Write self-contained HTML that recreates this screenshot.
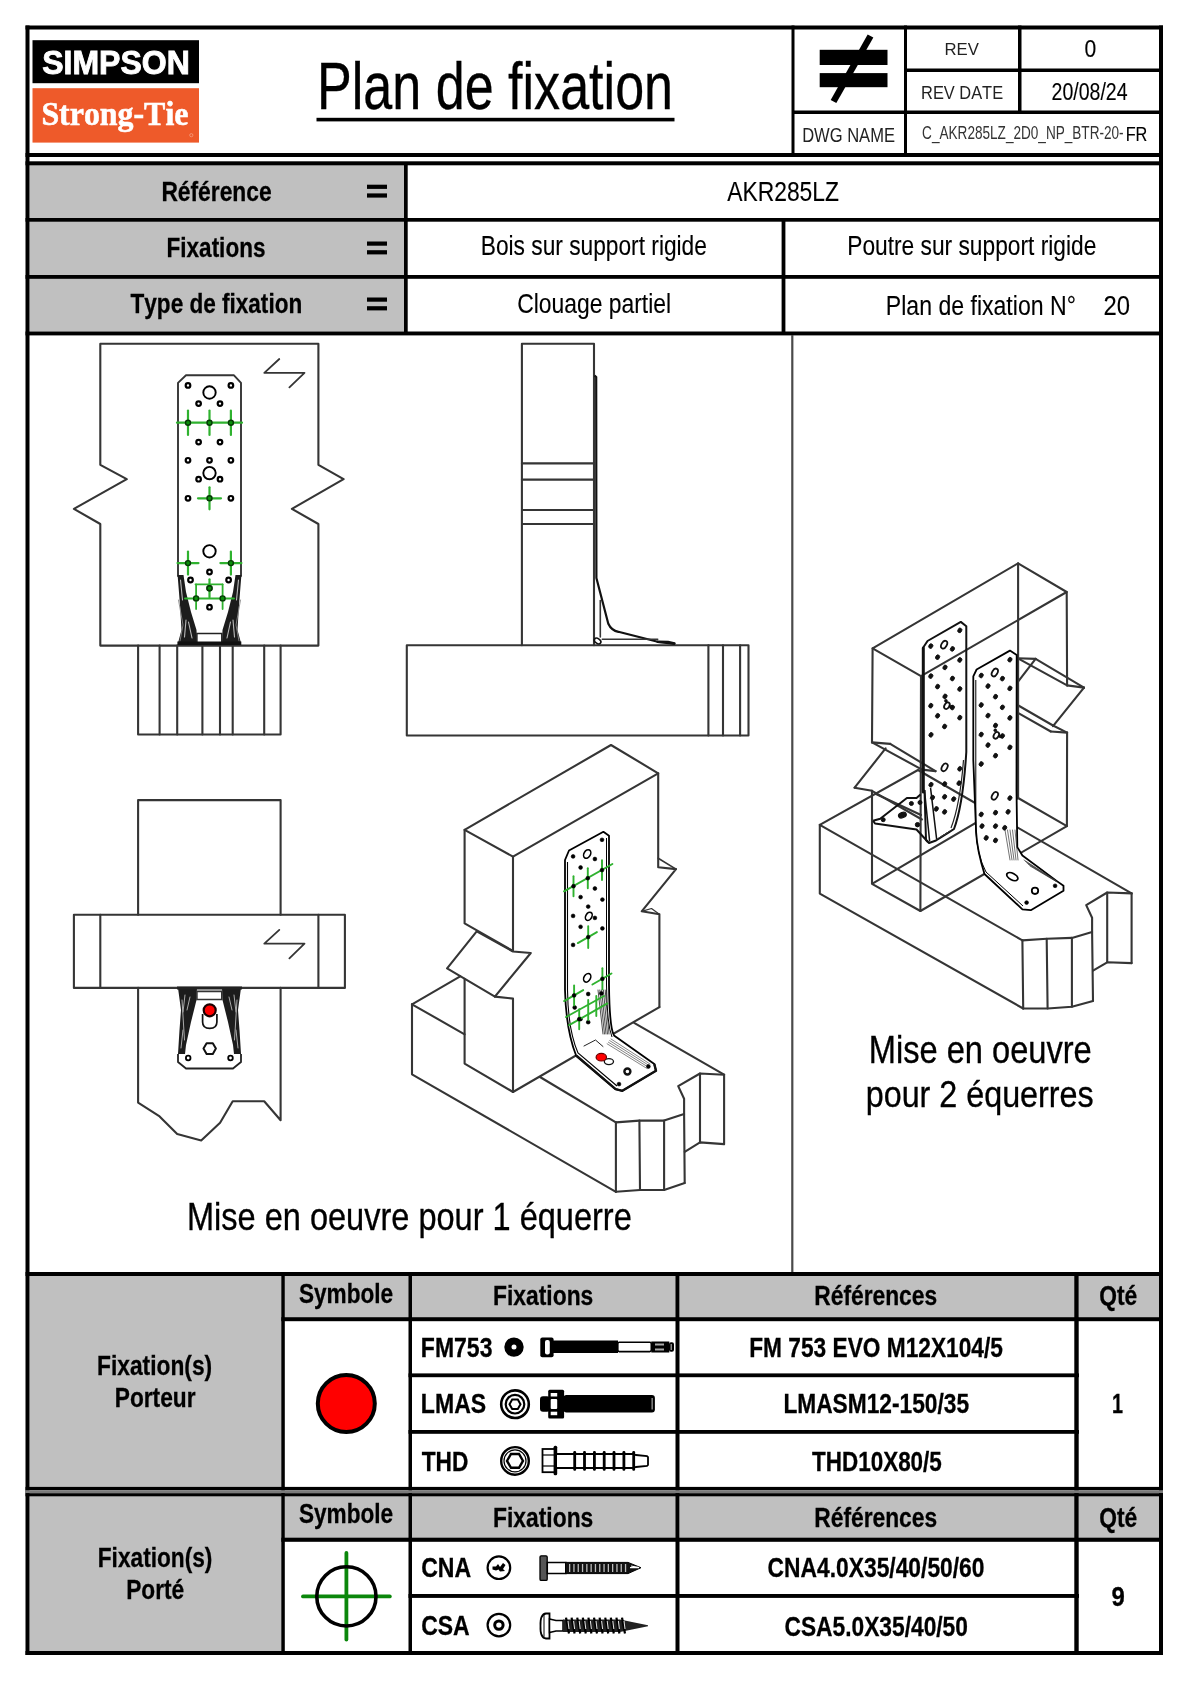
<!DOCTYPE html>
<html><head><meta charset="utf-8"><title>Plan de fixation</title>
<style>
html,body{margin:0;padding:0;background:#fff;}
body{width:1190px;height:1682px;overflow:hidden;font-family:"Liberation Sans",sans-serif;}
svg{display:block;will-change:transform;filter:blur(0.5px);}
</style></head>
<body>
<svg width="1190" height="1682" viewBox="0 0 1190 1682">
<rect x="0" y="0" width="1190" height="1682" fill="#fff"/>
<rect x="29.5" y="165" width="374.50" height="166.50" fill="#c0c0c0"/>
<rect x="29.5" y="1276" width="252.00" height="211.00" fill="#c0c0c0"/>
<rect x="285" y="1276" width="124.00" height="41.50" fill="#c0c0c0"/>
<rect x="412" y="1276" width="264.00" height="41.50" fill="#c0c0c0"/>
<rect x="680" y="1276" width="395.00" height="41.50" fill="#c0c0c0"/>
<rect x="1079" y="1276" width="80.00" height="41.50" fill="#c0c0c0"/>
<rect x="29.5" y="1496" width="252.00" height="155.00" fill="#c0c0c0"/>
<rect x="285" y="1496" width="124.00" height="42.00" fill="#c0c0c0"/>
<rect x="412" y="1496" width="264.00" height="42.00" fill="#c0c0c0"/>
<rect x="680" y="1496" width="395.00" height="42.00" fill="#c0c0c0"/>
<rect x="1079" y="1496" width="80.00" height="42.00" fill="#c0c0c0"/>
<rect x="32.5" y="40.2" width="166.50" height="43.00" fill="#000"/>
<rect x="32.5" y="88.2" width="166.50" height="54.40" fill="#ee5a2a"/>
<text x="42.18" y="73.50" font-family='"Liberation Sans", sans-serif' font-weight="bold" font-size="32.56" textLength="147.58" lengthAdjust="spacingAndGlyphs" style="font-kerning:none" fill="#fff" stroke="#fff" stroke-width="0.90" >SIMPSON</text>
<text x="41.40" y="124.50" font-family='"Liberation Serif", serif' font-weight="bold" font-size="33.45" textLength="147.02" lengthAdjust="spacingAndGlyphs" style="font-kerning:none" fill="#fff" stroke="#fff" stroke-width="0.60" >Strong-Tie</text>
<circle cx="191.3" cy="135.2" r="1.6" fill="none" stroke="#f7b49a" stroke-width="0.6"/>
<rect x="25.5" y="25.5" width="1137.50" height="4.00" fill="#000"/>
<rect x="25.5" y="1651" width="1137.50" height="4.00" fill="#000"/>
<rect x="25.5" y="25.5" width="4.00" height="1629.50" fill="#000"/>
<rect x="1159" y="25.5" width="4.00" height="1629.50" fill="#000"/>
<rect x="791.5" y="25.5" width="3.00" height="131.50" fill="#000"/>
<rect x="904" y="25.5" width="3.00" height="131.50" fill="#000"/>
<rect x="1018" y="25.5" width="3.50" height="88.50" fill="#000"/>
<rect x="907" y="68.5" width="256.00" height="3.50" fill="#000"/>
<rect x="794" y="110.5" width="369.00" height="3.50" fill="#000"/>
<rect x="25.5" y="153" width="1137.50" height="4.00" fill="#000"/>
<rect x="25.5" y="161.3" width="1137.50" height="4.00" fill="#000"/>
<rect x="25.5" y="218" width="1137.50" height="3.70" fill="#000"/>
<rect x="25.5" y="275" width="1137.50" height="3.80" fill="#000"/>
<rect x="25.5" y="331.5" width="1137.50" height="3.90" fill="#000"/>
<rect x="404" y="165" width="3.70" height="170.00" fill="#000"/>
<rect x="781.6" y="221" width="3.80" height="114.00" fill="#000"/>
<rect x="791.2" y="335" width="2.20" height="937.00" fill="#4a4a4a"/>
<rect x="25.5" y="1272" width="1137.50" height="4.00" fill="#000"/>
<rect x="281.3" y="1272" width="3.50" height="383.00" fill="#000"/>
<rect x="408.5" y="1272" width="3.50" height="383.00" fill="#000"/>
<rect x="675.5" y="1272" width="4.00" height="383.00" fill="#000"/>
<rect x="1074.3" y="1272" width="4.40" height="383.00" fill="#000"/>
<rect x="281.3" y="1317.2" width="881.70" height="4.00" fill="#000"/>
<rect x="408.5" y="1373.4" width="670.50" height="3.80" fill="#000"/>
<rect x="408.5" y="1430" width="670.50" height="3.80" fill="#000"/>
<rect x="25.5" y="1486.9" width="1137.50" height="3.30" fill="#000"/>
<rect x="25.5" y="1490.2" width="1137.50" height="3.00" fill="#7a7a7a"/>
<rect x="25.5" y="1493.2" width="1137.50" height="3.10" fill="#000"/>
<rect x="281.3" y="1537.7" width="881.70" height="4.10" fill="#000"/>
<rect x="408.5" y="1594" width="670.50" height="3.90" fill="#000"/>
<text x="317.03" y="109.10" font-family='"Liberation Sans", sans-serif' font-weight="normal" font-size="65.99" textLength="356.05" lengthAdjust="spacingAndGlyphs" style="font-kerning:none" fill="#000" stroke="#000" stroke-width="0.35" >Plan de fixation</text>
<rect x="316.5" y="117.8" width="358.00" height="3.60" fill="#000"/>
<text x="944.53" y="55.30" font-family='"Liberation Sans", sans-serif' font-weight="normal" font-size="17.15" textLength="34.34" lengthAdjust="spacingAndGlyphs" style="font-kerning:none" fill="#222" stroke="#222" stroke-width="0.00" >REV</text>
<text x="1084.47" y="57.00" font-family='"Liberation Sans", sans-serif' font-weight="normal" font-size="24.71" textLength="11.75" lengthAdjust="spacingAndGlyphs" style="font-kerning:none" fill="#000" stroke="#000" stroke-width="0.12" >0</text>
<text x="921.05" y="98.80" font-family='"Liberation Sans", sans-serif' font-weight="normal" font-size="18.75" textLength="82.05" lengthAdjust="spacingAndGlyphs" style="font-kerning:none" fill="#222" stroke="#222" stroke-width="0.00" >REV DATE</text>
<text x="1051.52" y="100.00" font-family='"Liberation Sans", sans-serif' font-weight="normal" font-size="23.98" textLength="76.06" lengthAdjust="spacingAndGlyphs" style="font-kerning:none" fill="#000" stroke="#000" stroke-width="0.12" >20/08/24</text>
<text x="802.14" y="141.70" font-family='"Liberation Sans", sans-serif' font-weight="normal" font-size="20.64" textLength="92.87" lengthAdjust="spacingAndGlyphs" style="font-kerning:none" fill="#222" stroke="#222" stroke-width="0.00" >DWG NAME</text>
<text x="922.11" y="138.60" font-family='"Liberation Sans", sans-serif' font-weight="normal" font-size="18.02" textLength="201.49" lengthAdjust="spacingAndGlyphs" style="font-kerning:none" fill="#333" stroke="#333" stroke-width="0.00" >C_AKR285LZ_2D0_NP_BTR-20-</text>
<text x="1125.67" y="140.60" font-family='"Liberation Sans", sans-serif' font-weight="normal" font-size="19.33" textLength="21.69" lengthAdjust="spacingAndGlyphs" style="font-kerning:none" fill="#000" stroke="#000" stroke-width="0.12" >FR</text>
<rect x="819.7" y="49.8" width="67.80" height="15.20" fill="#000"/>
<rect x="819.7" y="73.1" width="67.80" height="14.10" fill="#000"/>
<line x1="870.5" y1="36" x2="833.5" y2="101.5" stroke="#000" stroke-width="6.5"/>
<text x="161.38" y="201.00" font-family='"Liberation Sans", sans-serif' font-weight="bold" font-size="28.05" textLength="110.20" lengthAdjust="spacingAndGlyphs" style="font-kerning:none" fill="#000" stroke="#000" stroke-width="0.30" >Référence</text>
<text x="166.59" y="256.90" font-family='"Liberation Sans", sans-serif' font-weight="bold" font-size="28.05" textLength="98.83" lengthAdjust="spacingAndGlyphs" style="font-kerning:none" fill="#000" stroke="#000" stroke-width="0.30" >Fixations</text>
<text x="130.55" y="313.10" font-family='"Liberation Sans", sans-serif' font-weight="bold" font-size="28.05" textLength="171.65" lengthAdjust="spacingAndGlyphs" style="font-kerning:none" fill="#000" stroke="#000" stroke-width="0.30" >Type de fixation</text>
<rect x="367" y="184.7" width="20.00" height="4.20" fill="#000"/>
<rect x="367" y="193.39999999999998" width="20.00" height="4.20" fill="#000"/>
<rect x="367" y="241.5" width="20.00" height="4.20" fill="#000"/>
<rect x="367" y="250.2" width="20.00" height="4.20" fill="#000"/>
<rect x="367" y="297.5" width="20.00" height="4.20" fill="#000"/>
<rect x="367" y="306.2" width="20.00" height="4.20" fill="#000"/>
<text x="727.16" y="201.10" font-family='"Liberation Sans", sans-serif' font-weight="normal" font-size="27.91" textLength="111.86" lengthAdjust="spacingAndGlyphs" style="font-kerning:none" fill="#000" stroke="#000" stroke-width="0.12" >AKR285LZ</text>
<text x="480.74" y="255.20" font-family='"Liberation Sans", sans-serif' font-weight="normal" font-size="28.05" textLength="226.17" lengthAdjust="spacingAndGlyphs" style="font-kerning:none" fill="#000" stroke="#000" stroke-width="0.12" >Bois sur support rigide</text>
<text x="847.23" y="254.90" font-family='"Liberation Sans", sans-serif' font-weight="normal" font-size="28.05" textLength="249.08" lengthAdjust="spacingAndGlyphs" style="font-kerning:none" fill="#000" stroke="#000" stroke-width="0.12" >Poutre sur support rigide</text>
<text x="517.14" y="313.00" font-family='"Liberation Sans", sans-serif' font-weight="normal" font-size="27.91" textLength="153.99" lengthAdjust="spacingAndGlyphs" style="font-kerning:none" fill="#000" stroke="#000" stroke-width="0.12" >Clouage partiel</text>
<text x="885.81" y="314.90" font-family='"Liberation Sans", sans-serif' font-weight="normal" font-size="27.91" textLength="190.08" lengthAdjust="spacingAndGlyphs" style="font-kerning:none" fill="#000" stroke="#000" stroke-width="0.12" >Plan de fixation N°</text>
<text x="1103.50" y="315.10" font-family='"Liberation Sans", sans-serif' font-weight="normal" font-size="28.34" textLength="26.53" lengthAdjust="spacingAndGlyphs" style="font-kerning:none" fill="#000" stroke="#000" stroke-width="0.12" >20</text>
<text x="187.03" y="1229.50" font-family='"Liberation Sans", sans-serif' font-weight="normal" font-size="38.23" textLength="444.71" lengthAdjust="spacingAndGlyphs" style="font-kerning:none" fill="#000" stroke="#000" stroke-width="0.35" >Mise en oeuvre pour 1 équerre</text>
<text x="868.72" y="1062.90" font-family='"Liberation Sans", sans-serif' font-weight="normal" font-size="39.10" textLength="223.03" lengthAdjust="spacingAndGlyphs" style="font-kerning:none" fill="#000" stroke="#000" stroke-width="0.35" >Mise en oeuvre</text>
<text x="865.72" y="1106.60" font-family='"Liberation Sans", sans-serif' font-weight="normal" font-size="37.50" textLength="227.95" lengthAdjust="spacingAndGlyphs" style="font-kerning:none" fill="#000" stroke="#000" stroke-width="0.35" >pour 2 équerres</text>
<text x="298.95" y="1302.70" font-family='"Liberation Sans", sans-serif' font-weight="bold" font-size="27.91" textLength="94.12" lengthAdjust="spacingAndGlyphs" style="font-kerning:none" fill="#000" stroke="#000" stroke-width="0.30" >Symbole</text>
<text x="493.07" y="1305.20" font-family='"Liberation Sans", sans-serif' font-weight="bold" font-size="27.91" textLength="100.26" lengthAdjust="spacingAndGlyphs" style="font-kerning:none" fill="#000" stroke="#000" stroke-width="0.30" >Fixations</text>
<text x="814.28" y="1305.20" font-family='"Liberation Sans", sans-serif' font-weight="bold" font-size="27.91" textLength="122.86" lengthAdjust="spacingAndGlyphs" style="font-kerning:none" fill="#000" stroke="#000" stroke-width="0.30" >Références</text>
<text x="1099.16" y="1305.10" font-family='"Liberation Sans", sans-serif' font-weight="bold" font-size="27.91" textLength="38.01" lengthAdjust="spacingAndGlyphs" style="font-kerning:none" fill="#000" stroke="#000" stroke-width="0.30" >Qté</text>
<text x="298.95" y="1522.70" font-family='"Liberation Sans", sans-serif' font-weight="bold" font-size="27.91" textLength="94.12" lengthAdjust="spacingAndGlyphs" style="font-kerning:none" fill="#000" stroke="#000" stroke-width="0.30" >Symbole</text>
<text x="493.07" y="1527.20" font-family='"Liberation Sans", sans-serif' font-weight="bold" font-size="27.91" textLength="100.26" lengthAdjust="spacingAndGlyphs" style="font-kerning:none" fill="#000" stroke="#000" stroke-width="0.30" >Fixations</text>
<text x="814.28" y="1527.20" font-family='"Liberation Sans", sans-serif' font-weight="bold" font-size="27.91" textLength="122.86" lengthAdjust="spacingAndGlyphs" style="font-kerning:none" fill="#000" stroke="#000" stroke-width="0.30" >Références</text>
<text x="1099.16" y="1527.10" font-family='"Liberation Sans", sans-serif' font-weight="bold" font-size="27.91" textLength="38.01" lengthAdjust="spacingAndGlyphs" style="font-kerning:none" fill="#000" stroke="#000" stroke-width="0.30" >Qté</text>
<text x="97.08" y="1374.80" font-family='"Liberation Sans", sans-serif' font-weight="bold" font-size="27.91" textLength="115.06" lengthAdjust="spacingAndGlyphs" style="font-kerning:none" fill="#000" stroke="#000" stroke-width="0.30" >Fixation(s)</text>
<text x="114.78" y="1406.70" font-family='"Liberation Sans", sans-serif' font-weight="bold" font-size="27.91" textLength="80.76" lengthAdjust="spacingAndGlyphs" style="font-kerning:none" fill="#000" stroke="#000" stroke-width="0.30" >Porteur</text>
<text x="97.78" y="1566.80" font-family='"Liberation Sans", sans-serif' font-weight="bold" font-size="27.91" textLength="114.65" lengthAdjust="spacingAndGlyphs" style="font-kerning:none" fill="#000" stroke="#000" stroke-width="0.30" >Fixation(s)</text>
<text x="126.18" y="1599.00" font-family='"Liberation Sans", sans-serif' font-weight="bold" font-size="27.91" textLength="57.99" lengthAdjust="spacingAndGlyphs" style="font-kerning:none" fill="#000" stroke="#000" stroke-width="0.30" >Porté</text>
<text x="420.86" y="1357.00" font-family='"Liberation Sans", sans-serif' font-weight="bold" font-size="27.91" textLength="71.57" lengthAdjust="spacingAndGlyphs" style="font-kerning:none" fill="#000" stroke="#000" stroke-width="0.30" >FM753</text>
<text x="420.86" y="1413.30" font-family='"Liberation Sans", sans-serif' font-weight="bold" font-size="27.91" textLength="65.34" lengthAdjust="spacingAndGlyphs" style="font-kerning:none" fill="#000" stroke="#000" stroke-width="0.30" >LMAS</text>
<text x="421.64" y="1471.10" font-family='"Liberation Sans", sans-serif' font-weight="bold" font-size="27.91" textLength="46.71" lengthAdjust="spacingAndGlyphs" style="font-kerning:none" fill="#000" stroke="#000" stroke-width="0.30" >THD</text>
<text x="421.15" y="1577.20" font-family='"Liberation Sans", sans-serif' font-weight="bold" font-size="27.91" textLength="49.95" lengthAdjust="spacingAndGlyphs" style="font-kerning:none" fill="#000" stroke="#000" stroke-width="0.30" >CNA</text>
<text x="421.16" y="1635.40" font-family='"Liberation Sans", sans-serif' font-weight="bold" font-size="27.91" textLength="48.55" lengthAdjust="spacingAndGlyphs" style="font-kerning:none" fill="#000" stroke="#000" stroke-width="0.30" >CSA</text>
<text x="749.18" y="1357.20" font-family='"Liberation Sans", sans-serif' font-weight="bold" font-size="27.91" textLength="253.75" lengthAdjust="spacingAndGlyphs" style="font-kerning:none" fill="#000" stroke="#000" stroke-width="0.30" >FM 753 EVO M12X104/5</text>
<text x="783.38" y="1413.40" font-family='"Liberation Sans", sans-serif' font-weight="bold" font-size="27.91" textLength="185.65" lengthAdjust="spacingAndGlyphs" style="font-kerning:none" fill="#000" stroke="#000" stroke-width="0.30" >LMASM12-150/35</text>
<text x="812.05" y="1470.90" font-family='"Liberation Sans", sans-serif' font-weight="bold" font-size="27.91" textLength="129.78" lengthAdjust="spacingAndGlyphs" style="font-kerning:none" fill="#000" stroke="#000" stroke-width="0.30" >THD10X80/5</text>
<text x="1111.95" y="1413.10" font-family='"Liberation Sans", sans-serif' font-weight="bold" font-size="28.05" textLength="11.00" lengthAdjust="spacingAndGlyphs" style="font-kerning:none" fill="#000" stroke="#000" stroke-width="0.30" >1</text>
<text x="767.56" y="1577.40" font-family='"Liberation Sans", sans-serif' font-weight="bold" font-size="27.91" textLength="216.97" lengthAdjust="spacingAndGlyphs" style="font-kerning:none" fill="#000" stroke="#000" stroke-width="0.30" >CNA4.0X35/40/50/60</text>
<text x="784.47" y="1635.60" font-family='"Liberation Sans", sans-serif' font-weight="bold" font-size="27.91" textLength="183.47" lengthAdjust="spacingAndGlyphs" style="font-kerning:none" fill="#000" stroke="#000" stroke-width="0.30" >CSA5.0X35/40/50</text>
<text x="1111.57" y="1605.50" font-family='"Liberation Sans", sans-serif' font-weight="bold" font-size="27.91" textLength="13.32" lengthAdjust="spacingAndGlyphs" style="font-kerning:none" fill="#000" stroke="#000" stroke-width="0.30" >9</text>
<circle cx="346.3" cy="1403.5" r="28.5" fill="#ff0000" stroke="#000" stroke-width="4"/>
<line x1="303" y1="1596.4" x2="389.8" y2="1596.4" stroke="#0b870b" stroke-width="3.8" stroke-linecap="round"/>
<line x1="346.4" y1="1553" x2="346.4" y2="1639.6" stroke="#0b870b" stroke-width="3.8" stroke-linecap="round"/>
<circle cx="346.4" cy="1596.4" r="29.6" fill="none" stroke="#000" stroke-width="3.6"/>
<circle cx="514" cy="1347.1" r="6.1" fill="none" stroke="#000" stroke-width="7.2"/>
<rect x="540.3" y="1337.6" width="13.3" height="19.6" rx="2" fill="#000"/>
<rect x="545" y="1340" width="4.8" height="14.6" rx="2" fill="#fff"/>
<rect x="553" y="1340.5" width="65" height="12.5" fill="#000"/>
<rect x="617.8" y="1342.2" width="33.5" height="9.4" rx="1.5" fill="#fff" stroke="#000" stroke-width="1.6"/>
<rect x="651.3" y="1341.5" width="18" height="11" fill="#000"/>
<rect x="655" y="1343.5" width="9" height="2" fill="#aaa"/>
<rect x="655" y="1348.5" width="9" height="2" fill="#aaa"/>
<rect x="669" y="1342.3" width="5" height="9.5" rx="2" fill="#000"/>
<rect x="670.5" y="1344" width="1.5" height="6" fill="#888"/>
<circle cx="515" cy="1404.2" r="13.8" fill="none" stroke="#000" stroke-width="2.6"/>
<circle cx="515" cy="1404.2" r="9.3" fill="none" stroke="#000" stroke-width="2.2"/>
<polygon points="520.5,1404.2 517.8,1408.9 512.2,1408.9 509.5,1404.2 512.2,1399.5 517.8,1399.5" fill="none" stroke="#000" stroke-width="2"/>
<rect x="540" y="1396.3" width="10" height="15.5" rx="3" fill="#000"/>
<rect x="548.2" y="1389.8" width="15.9" height="28.8" rx="1.5" fill="#000"/>
<rect x="550.7" y="1393" width="6.5" height="3.5" fill="#fff"/>
<rect x="550.7" y="1399" width="6.5" height="10" rx="1" fill="#fff"/>
<rect x="550.7" y="1411.7" width="6.5" height="3.5" fill="#fff"/>
<rect x="563.5" y="1395.1" width="91.4" height="17.4" rx="3" fill="#000"/>
<rect x="651.5" y="1398" width="1.3" height="11.5" fill="#999"/>
<circle cx="515" cy="1460.9" r="13.8" fill="none" stroke="#000" stroke-width="2.4"/>
<circle cx="515" cy="1460.9" r="11" fill="none" stroke="#000" stroke-width="1.2"/>
<polygon points="523,1460.9 519,1467.8 511,1467.8 507,1460.9 511,1454 519,1454" fill="none" stroke="#000" stroke-width="2.4"/>
<rect x="542.5" y="1449" width="13" height="23.2" fill="#fff" stroke="#000" stroke-width="1.8"/>
<line x1="543" y1="1455" x2="555" y2="1455" stroke="#000" stroke-width="1.2"/>
<line x1="543" y1="1466" x2="555" y2="1466" stroke="#000" stroke-width="1.2"/>
<rect x="553.6" y="1445.8" width="3.6" height="29.5" rx="1.5" fill="#000"/>
<path d="M557,1454 L633,1454 L636,1455 L647,1456 L648,1457 L648,1465 L647,1466 L636,1467 L633,1468 L557,1468" fill="#fff" stroke="#000" stroke-width="1.8"/>
<rect x="573.3" y="1451" width="2.8" height="19.8" rx="1.2" fill="#000"/>
<rect x="583.1" y="1451" width="2.8" height="19.8" rx="1.2" fill="#000"/>
<rect x="593.0" y="1451" width="2.8" height="19.8" rx="1.2" fill="#000"/>
<rect x="602.8" y="1451" width="2.8" height="19.8" rx="1.2" fill="#000"/>
<rect x="612.6" y="1451" width="2.8" height="19.8" rx="1.2" fill="#000"/>
<rect x="622.5" y="1451" width="2.8" height="19.8" rx="1.2" fill="#000"/>
<rect x="632.3" y="1451" width="2.8" height="19.8" rx="1.2" fill="#000"/>
<circle cx="498.9" cy="1567.7" r="11.3" fill="none" stroke="#000" stroke-width="2.2"/>
<path d="M492.5,1566.5 L496,1566.5 L498,1564 L500,1567 L503,1563 L505.5,1565 L503,1569 L505,1571 L500,1571.5 L498.5,1569.5 L496,1570.5 L492.5,1569.5 Z" fill="#000"/>
<rect x="540" y="1555.8" width="7.2" height="24.6" rx="1.2" fill="#555" stroke="#000" stroke-width="1.3"/>
<rect x="547.3" y="1562.5" width="18.5" height="11" fill="#fff" stroke="#000" stroke-width="1.5"/>
<path d="M565.5,1562.4 L628,1562.4 L641,1567.7 L628,1573.6 L565.5,1573.6 Z" fill="#111" stroke="#000" stroke-width="1"/>
<rect x="569.0" y="1564" width="1.3" height="8" fill="#bbb"/>
<rect x="573.3" y="1564" width="1.3" height="8" fill="#bbb"/>
<rect x="577.6" y="1564" width="1.3" height="8" fill="#bbb"/>
<rect x="581.9" y="1564" width="1.3" height="8" fill="#bbb"/>
<rect x="586.2" y="1564" width="1.3" height="8" fill="#bbb"/>
<rect x="590.5" y="1564" width="1.3" height="8" fill="#bbb"/>
<rect x="594.8" y="1564" width="1.3" height="8" fill="#bbb"/>
<rect x="599.1" y="1564" width="1.3" height="8" fill="#bbb"/>
<rect x="603.4" y="1564" width="1.3" height="8" fill="#bbb"/>
<rect x="607.7" y="1564" width="1.3" height="8" fill="#bbb"/>
<rect x="612.0" y="1564" width="1.3" height="8" fill="#bbb"/>
<rect x="616.3" y="1564" width="1.3" height="8" fill="#bbb"/>
<rect x="620.6" y="1564" width="1.3" height="8" fill="#bbb"/>
<rect x="624.9" y="1564" width="1.3" height="8" fill="#bbb"/>
<path d="M630,1567.7 L639,1567.7 L631,1566" fill="none" stroke="#fff" stroke-width="1.2"/>
<circle cx="498.9" cy="1625.1" r="11.3" fill="none" stroke="#000" stroke-width="2.2"/>
<circle cx="498.9" cy="1625.1" r="4.2" fill="none" stroke="#000" stroke-width="3"/>
<path d="M546,1613.5 Q540,1614 540.5,1626 Q540,1638 546,1638.5 L549.5,1638.5 L549.5,1613.5 Z" fill="#fff" stroke="#000" stroke-width="1.8"/>
<line x1="544" y1="1615" x2="544" y2="1637" stroke="#000" stroke-width="1"/>
<path d="M549.5,1619 L556,1620.5 L563,1620.5 L563,1631 L556,1631 L549.5,1632.5 Z" fill="#fff" stroke="#000" stroke-width="1.5"/>
<path d="M563,1619.5 L620,1619.5 L632,1622 L648,1625.3 L648,1626.3 L632,1629.5 L620,1632 L563,1632 Z" fill="#222"/>
<line x1="566.0" y1="1617.6" x2="569.0" y2="1633.5" stroke="#000" stroke-width="2.2"/>
<line x1="568.0" y1="1621" x2="569.0" y2="1629" stroke="#fff" stroke-width="0.9"/>
<line x1="571.6" y1="1617.6" x2="574.6" y2="1633.5" stroke="#000" stroke-width="2.2"/>
<line x1="573.6" y1="1621" x2="574.6" y2="1629" stroke="#fff" stroke-width="0.9"/>
<line x1="577.2" y1="1617.6" x2="580.2" y2="1633.5" stroke="#000" stroke-width="2.2"/>
<line x1="579.2" y1="1621" x2="580.2" y2="1629" stroke="#fff" stroke-width="0.9"/>
<line x1="582.8" y1="1617.6" x2="585.8" y2="1633.5" stroke="#000" stroke-width="2.2"/>
<line x1="584.8" y1="1621" x2="585.8" y2="1629" stroke="#fff" stroke-width="0.9"/>
<line x1="588.4" y1="1617.6" x2="591.4" y2="1633.5" stroke="#000" stroke-width="2.2"/>
<line x1="590.4" y1="1621" x2="591.4" y2="1629" stroke="#fff" stroke-width="0.9"/>
<line x1="594.0" y1="1617.6" x2="597.0" y2="1633.5" stroke="#000" stroke-width="2.2"/>
<line x1="596.0" y1="1621" x2="597.0" y2="1629" stroke="#fff" stroke-width="0.9"/>
<line x1="599.6" y1="1617.6" x2="602.6" y2="1633.5" stroke="#000" stroke-width="2.2"/>
<line x1="601.6" y1="1621" x2="602.6" y2="1629" stroke="#fff" stroke-width="0.9"/>
<line x1="605.2" y1="1617.6" x2="608.2" y2="1633.5" stroke="#000" stroke-width="2.2"/>
<line x1="607.2" y1="1621" x2="608.2" y2="1629" stroke="#fff" stroke-width="0.9"/>
<line x1="610.8" y1="1617.6" x2="613.8" y2="1633.5" stroke="#000" stroke-width="2.2"/>
<line x1="612.8" y1="1621" x2="613.8" y2="1629" stroke="#fff" stroke-width="0.9"/>
<line x1="616.4" y1="1617.6" x2="619.4" y2="1633.5" stroke="#000" stroke-width="2.2"/>
<line x1="618.4" y1="1621" x2="619.4" y2="1629" stroke="#fff" stroke-width="0.9"/>
<line x1="622.0" y1="1617.6" x2="625.0" y2="1633.5" stroke="#000" stroke-width="2.2"/>
<line x1="624.0" y1="1621" x2="625.0" y2="1629" stroke="#fff" stroke-width="0.9"/>
<path d="M100.3,343.8 L318.4,343.8 L318.4,464.8 L343.6,479.2 L291.9,508.9 L318.4,524.0 L318.4,645.6 L100.3,645.6 L100.3,524.0 L73.9,508.9 L126.8,479.2 L100.3,464.8 Z" fill="none" stroke="#353535" stroke-width="2.1" stroke-linejoin="round" stroke-linecap="round"/>
<path d="M138.1,645.6 L138.1,734.5 L280.6,734.5 L280.6,645.6" fill="none" stroke="#353535" stroke-width="2.1" stroke-linejoin="round" stroke-linecap="round"/>
<line x1="159.6" y1="645.6" x2="159.6" y2="734.5" stroke="#353535" stroke-width="2.1" stroke-linecap="round"/>
<line x1="177.2" y1="645.6" x2="177.2" y2="734.5" stroke="#353535" stroke-width="2.1" stroke-linecap="round"/>
<line x1="202.4" y1="645.6" x2="202.4" y2="734.5" stroke="#353535" stroke-width="2.1" stroke-linecap="round"/>
<line x1="220.0" y1="645.6" x2="220.0" y2="734.5" stroke="#353535" stroke-width="2.1" stroke-linecap="round"/>
<line x1="232.7" y1="645.6" x2="232.7" y2="734.5" stroke="#353535" stroke-width="2.1" stroke-linecap="round"/>
<line x1="264.2" y1="645.6" x2="264.2" y2="734.5" stroke="#353535" stroke-width="2.1" stroke-linecap="round"/>
<path d="M279.3,359.0 L264.3,372.8 L304.5,372.8 L289.4,387.4" fill="none" stroke="#353535" stroke-width="1.8" stroke-linejoin="round" stroke-linecap="round"/>
<path d="M178.0,576.0 L178.0,382.9 L186.0,375.3 L234.0,375.3 L241.0,382.9 L241.0,576.0" fill="none" stroke="#353535" stroke-width="1.9" stroke-linejoin="round" stroke-linecap="round"/>
<path d="M177.6,575.0 L183.5,575.0 L186.0,592.0 L191.0,612.0 L196.5,630.0 L197.0,643.0 L178.0,643.0 L181.5,630.0 L180.0,605.0 Z" fill="#1c1c1c"/>
<line x1="180.5" y1="580.0" x2="182.5" y2="600.0" stroke="#bbb" stroke-width="1.1" stroke-linecap="round"/>
<line x1="186.0" y1="620.0" x2="184.5" y2="637.0" stroke="#bbb" stroke-width="1.1" stroke-linecap="round"/>
<line x1="188.5" y1="622.0" x2="192.0" y2="638.0" stroke="#bbb" stroke-width="1.1" stroke-linecap="round"/>
<path d="M178.5,600.0 L183.0,625.0 L180.0,641.0" fill="none" stroke="#888" stroke-width="0.9" stroke-linejoin="round" stroke-linecap="round"/>
<path d="M241.4,575.0 L235.5,575.0 L233.0,592.0 L228.0,612.0 L222.5,630.0 L222.0,643.0 L241.0,643.0 L237.5,630.0 L239.0,605.0 Z" fill="#1c1c1c"/>
<line x1="238.5" y1="580.0" x2="236.5" y2="600.0" stroke="#bbb" stroke-width="1.1" stroke-linecap="round"/>
<line x1="233.0" y1="620.0" x2="234.5" y2="637.0" stroke="#bbb" stroke-width="1.1" stroke-linecap="round"/>
<line x1="230.5" y1="622.0" x2="227.0" y2="638.0" stroke="#bbb" stroke-width="1.1" stroke-linecap="round"/>
<path d="M240.5,600.0 L236.0,625.0 L239.0,641.0" fill="none" stroke="#888" stroke-width="0.9" stroke-linejoin="round" stroke-linecap="round"/>
<path d="M196.9,643 L196.9,633.4 L221.8,633.4 L221.8,643" fill="#fff" stroke="#222" stroke-width="1.5"/>
<rect x="177.4" y="641.5" width="63.9" height="3.5" fill="#111"/>
<circle cx="209.5" cy="392.5" r="6.2" fill="none" stroke="#000" stroke-width="1.9"/>
<circle cx="209.5" cy="473.1" r="6.2" fill="none" stroke="#000" stroke-width="1.9"/>
<circle cx="209.5" cy="551.3" r="6.2" fill="none" stroke="#000" stroke-width="1.9"/>
<circle cx="188.0" cy="385.4" r="2.3" fill="none" stroke="#000" stroke-width="2.2"/>
<circle cx="230.9" cy="385.4" r="2.3" fill="none" stroke="#000" stroke-width="2.2"/>
<circle cx="198.6" cy="403.6" r="2.3" fill="none" stroke="#000" stroke-width="2.2"/>
<circle cx="220.0" cy="403.6" r="2.3" fill="none" stroke="#000" stroke-width="2.2"/>
<circle cx="198.6" cy="442.1" r="2.3" fill="none" stroke="#000" stroke-width="2.2"/>
<circle cx="220.0" cy="442.1" r="2.3" fill="none" stroke="#000" stroke-width="2.2"/>
<circle cx="188.0" cy="460.3" r="2.3" fill="none" stroke="#000" stroke-width="2.2"/>
<circle cx="209.5" cy="460.3" r="2.3" fill="none" stroke="#000" stroke-width="2.2"/>
<circle cx="230.9" cy="460.3" r="2.3" fill="none" stroke="#000" stroke-width="2.2"/>
<circle cx="198.6" cy="479.2" r="2.3" fill="none" stroke="#000" stroke-width="2.2"/>
<circle cx="220.0" cy="479.2" r="2.3" fill="none" stroke="#000" stroke-width="2.2"/>
<circle cx="188.0" cy="498.3" r="2.3" fill="none" stroke="#000" stroke-width="2.2"/>
<circle cx="230.9" cy="498.3" r="2.3" fill="none" stroke="#000" stroke-width="2.2"/>
<circle cx="209.5" cy="572.0" r="2.3" fill="none" stroke="#000" stroke-width="2.2"/>
<circle cx="190.5" cy="580.0" r="2.3" fill="none" stroke="#000" stroke-width="2.2"/>
<circle cx="228.6" cy="580.0" r="2.3" fill="none" stroke="#000" stroke-width="2.2"/>
<circle cx="209.5" cy="607.2" r="2.3" fill="none" stroke="#000" stroke-width="2.2"/>
<line x1="177.0" y1="422.7" x2="242.0" y2="422.7" stroke="#2fb22f" stroke-width="2.2" stroke-linecap="round"/>
<line x1="188.0" y1="410.5" x2="188.0" y2="435.0" stroke="#2fb22f" stroke-width="2.2" stroke-linecap="round"/>
<circle cx="188.0" cy="422.7" r="2.5" fill="#0a8f0a" stroke="#063806" stroke-width="1.4"/>
<line x1="209.5" y1="410.5" x2="209.5" y2="435.0" stroke="#2fb22f" stroke-width="2.2" stroke-linecap="round"/>
<circle cx="209.5" cy="422.7" r="2.5" fill="#0a8f0a" stroke="#063806" stroke-width="1.4"/>
<line x1="230.9" y1="410.5" x2="230.9" y2="435.0" stroke="#2fb22f" stroke-width="2.2" stroke-linecap="round"/>
<circle cx="230.9" cy="422.7" r="2.5" fill="#0a8f0a" stroke="#063806" stroke-width="1.4"/>
<line x1="198.0" y1="498.3" x2="221.0" y2="498.3" stroke="#2fb22f" stroke-width="2.2" stroke-linecap="round"/>
<line x1="209.5" y1="487.3" x2="209.5" y2="509.3" stroke="#2fb22f" stroke-width="2.2" stroke-linecap="round"/>
<circle cx="209.5" cy="498.3" r="2.5" fill="#0a8f0a" stroke="#063806" stroke-width="1.4"/>
<line x1="177.5" y1="563.1" x2="198.5" y2="563.1" stroke="#2fb22f" stroke-width="2.2" stroke-linecap="round"/>
<line x1="188.0" y1="551.6" x2="188.0" y2="574.6" stroke="#2fb22f" stroke-width="2.2" stroke-linecap="round"/>
<circle cx="188.0" cy="563.1" r="2.5" fill="#0a8f0a" stroke="#063806" stroke-width="1.4"/>
<line x1="220.4" y1="563.1" x2="241.4" y2="563.1" stroke="#2fb22f" stroke-width="2.2" stroke-linecap="round"/>
<line x1="230.9" y1="551.6" x2="230.9" y2="574.6" stroke="#2fb22f" stroke-width="2.2" stroke-linecap="round"/>
<circle cx="230.9" cy="563.1" r="2.5" fill="#0a8f0a" stroke="#063806" stroke-width="1.4"/>
<line x1="209.4" y1="588.3" x2="209.6" y2="588.3" stroke="#2fb22f" stroke-width="2.2" stroke-linecap="round"/>
<line x1="209.5" y1="579.3" x2="209.5" y2="597.3" stroke="#2fb22f" stroke-width="2.2" stroke-linecap="round"/>
<circle cx="209.5" cy="588.3" r="2.5" fill="#0a8f0a" stroke="#063806" stroke-width="1.4"/>
<line x1="195.5" y1="584.3" x2="222.5" y2="584.3" stroke="#2fb22f" stroke-width="1.8" stroke-linecap="round"/>
<line x1="196.1" y1="584.3" x2="196.1" y2="609.0" stroke="#2fb22f" stroke-width="1.8" stroke-linecap="round"/>
<line x1="222.6" y1="584.3" x2="222.6" y2="609.0" stroke="#2fb22f" stroke-width="1.8" stroke-linecap="round"/>
<line x1="185.0" y1="598.4" x2="234.0" y2="598.4" stroke="#2fb22f" stroke-width="2.0" stroke-linecap="round"/>
<circle cx="196.1" cy="598.4" r="2.5" fill="#0a8f0a" stroke="#063806" stroke-width="1.4"/>
<circle cx="222.6" cy="598.4" r="2.5" fill="#0a8f0a" stroke="#063806" stroke-width="1.4"/>
<circle cx="209.5" cy="588.3" r="2.5" fill="#0a8f0a" stroke="#063806" stroke-width="1.4"/>
<path d="M521.9,645.3 L521.9,343.7 L594.0,343.7 L594.0,645.3" fill="none" stroke="#353535" stroke-width="2.1" stroke-linejoin="round" stroke-linecap="round"/>
<line x1="521.9" y1="463.4" x2="594.0" y2="463.4" stroke="#353535" stroke-width="2.1" stroke-linecap="round"/>
<line x1="521.9" y1="479.6" x2="594.0" y2="479.6" stroke="#353535" stroke-width="2.1" stroke-linecap="round"/>
<line x1="521.9" y1="510.0" x2="594.0" y2="510.0" stroke="#353535" stroke-width="2.1" stroke-linecap="round"/>
<line x1="521.9" y1="524.0" x2="594.0" y2="524.0" stroke="#353535" stroke-width="2.1" stroke-linecap="round"/>
<path d="M406.8,645.3 L748.5,645.3 L748.5,735.5 L406.8,735.5 Z" fill="none" stroke="#353535" stroke-width="2.1" stroke-linejoin="round" stroke-linecap="round"/>
<line x1="708.4" y1="645.3" x2="708.4" y2="735.5" stroke="#353535" stroke-width="2.1" stroke-linecap="round"/>
<line x1="723.0" y1="645.3" x2="723.0" y2="735.5" stroke="#353535" stroke-width="2.1" stroke-linecap="round"/>
<line x1="740.1" y1="645.3" x2="740.1" y2="735.5" stroke="#353535" stroke-width="2.1" stroke-linecap="round"/>
<path d="M594.6,375.5 L596.2,377 L596.4,578 L608.3,623.7 Q611.5,630.5 618.4,631.8 L657.7,641.8 L674.9,643.9" fill="none" stroke="#111" stroke-width="2.2" stroke-linejoin="round"/>
<line x1="600.3" y1="600.5" x2="600.3" y2="637.0" stroke="#353535" stroke-width="1.6" stroke-linecap="round"/>
<line x1="602.3" y1="639.3" x2="657.7" y2="639.3" stroke="#353535" stroke-width="1.6" stroke-linecap="round"/>
<ellipse cx="597.6" cy="641.0" rx="3.6" ry="2.4" transform="rotate(35 597.6 641.0)" fill="none" stroke="#111" stroke-width="1.6"/>
<path d="M657.7,641.8 L668.0,642.0 L674.5,643.5" fill="none" stroke="#111" stroke-width="2.5" stroke-linejoin="round" stroke-linecap="round"/>
<path d="M138.1,914.8 L138.1,800.1 L280.6,800.1 L280.6,914.8" fill="none" stroke="#353535" stroke-width="2.1" stroke-linejoin="round" stroke-linecap="round"/>
<path d="M138.1,987.9 L138.1,1102.6 L159.6,1116.4 L177.2,1134.1 L201.2,1140.4 L220.1,1122.7 L232.7,1101.3 L264.2,1101.3 L280.6,1120.2 L280.6,987.9" fill="none" stroke="#353535" stroke-width="2.1" stroke-linejoin="round" stroke-linecap="round"/>
<path d="M73.9,914.8 L344.9,914.8 L344.9,987.9 L73.9,987.9 Z" fill="none" stroke="#353535" stroke-width="2.1" stroke-linejoin="round" stroke-linecap="round"/>
<line x1="100.3" y1="914.8" x2="100.3" y2="987.9" stroke="#353535" stroke-width="2.1" stroke-linecap="round"/>
<line x1="318.4" y1="914.8" x2="318.4" y2="987.9" stroke="#353535" stroke-width="2.1" stroke-linecap="round"/>
<path d="M279.3,929.9 L264.3,943.7 L304.5,943.7 L289.4,958.3" fill="none" stroke="#353535" stroke-width="1.8" stroke-linejoin="round" stroke-linecap="round"/>
<path d="M178.0,988.0 L197.0,988.0 L196.5,1000.0 L191.0,1022.0 L186.0,1045.0 L185.0,1054.0 L178.0,1054.0 L179.5,1030.0 L181.0,1010.0 Z" fill="#1c1c1c"/>
<line x1="185.0" y1="995.0" x2="183.0" y2="1012.0" stroke="#aaa" stroke-width="1.0" stroke-linecap="round"/>
<line x1="190.0" y1="997.0" x2="187.0" y2="1010.0" stroke="#aaa" stroke-width="1.0" stroke-linecap="round"/>
<line x1="183.0" y1="1030.0" x2="181.0" y2="1048.0" stroke="#aaa" stroke-width="1.0" stroke-linecap="round"/>
<line x1="182.0" y1="1000.0" x2="184.5" y2="1040.0" stroke="#aaa" stroke-width="1.0" stroke-linecap="round"/>
<path d="M241.0,988.0 L222.0,988.0 L222.5,1000.0 L228.0,1022.0 L233.0,1045.0 L234.0,1054.0 L241.0,1054.0 L239.5,1030.0 L238.0,1010.0 Z" fill="#1c1c1c"/>
<line x1="234.0" y1="995.0" x2="236.0" y2="1012.0" stroke="#aaa" stroke-width="1.0" stroke-linecap="round"/>
<line x1="229.0" y1="997.0" x2="232.0" y2="1010.0" stroke="#aaa" stroke-width="1.0" stroke-linecap="round"/>
<line x1="236.0" y1="1030.0" x2="238.0" y2="1048.0" stroke="#aaa" stroke-width="1.0" stroke-linecap="round"/>
<line x1="237.0" y1="1000.0" x2="234.5" y2="1040.0" stroke="#aaa" stroke-width="1.0" stroke-linecap="round"/>
<path d="M196.9,991.4 L221.8,991.4 L221.8,999.5 L196.9,999.5 Z" fill="#fff" stroke="#333" stroke-width="1.6"/>
<path d="M178,1054 L178,1062 L186,1068.5 L233,1068.5 L241,1062 L241,1054" fill="none" stroke="#222" stroke-width="1.8" stroke-linejoin="round"/>
<rect x="177" y="986.5" width="65" height="3" fill="#222"/>
<polygon points="215.9,1048.6 212.8,1054 206.6,1054 203.5,1048.6 206.6,1043.2 212.8,1043.2" fill="none" stroke="#111" stroke-width="2.0" stroke-linejoin="round"/>
<circle cx="188.2" cy="1058.0" r="2.3" fill="none" stroke="#000" stroke-width="1.8"/>
<circle cx="230.5" cy="1058.0" r="2.3" fill="none" stroke="#000" stroke-width="1.8"/>
<path d="M202.6,1014 L202.6,1022 Q202.6,1028.4 209.7,1028.4 Q216.9,1028.4 216.9,1022 L216.9,1014" fill="none" stroke="#111" stroke-width="1.7"/>
<circle cx="209.7" cy="1010.3" r="6.0" fill="#ff0000" stroke="#1a0000" stroke-width="2.2"/>
<path d="M464.6,829.8 L611.0,745.0 L658.2,773.3 L513.0,856.6 Z" fill="none" stroke="#353535" stroke-width="2.1" stroke-linejoin="round" stroke-linecap="round"/>
<path d="M464.6,829.8 L464.6,923.4 L513.0,951.0" fill="none" stroke="#353535" stroke-width="2.1" stroke-linejoin="round" stroke-linecap="round"/>
<line x1="513.0" y1="856.6" x2="513.0" y2="951.0" stroke="#353535" stroke-width="2.1" stroke-linecap="round"/>
<path d="M658.2,773.3 L658.2,867.3 L676.0,869.1 L641.7,911.3 L659.4,914.3 L659.4,1007.1" fill="none" stroke="#353535" stroke-width="2.1" stroke-linejoin="round" stroke-linecap="round"/>
<path d="M658.2,858.2 L676.0,869.1" fill="none" stroke="#353535" stroke-width="1.6" stroke-linejoin="round" stroke-linecap="round"/>
<path d="M641.7,911.3 L651.5,908.5 L659.4,914.3" fill="none" stroke="#353535" stroke-width="1.2" stroke-linejoin="round" stroke-linecap="round"/>
<path d="M476.7,931.4 L513.0,951.5 L530.8,953.0 L494.9,996.6 L447.1,968.3 Z" fill="none" stroke="#353535" stroke-width="2.1" stroke-linejoin="round" stroke-linecap="round"/>
<path d="M494.9,996.6 L513.0,998.6 L513.0,1092.0" fill="none" stroke="#353535" stroke-width="2.1" stroke-linejoin="round" stroke-linecap="round"/>
<path d="M464.6,978.8 L464.6,1063.6 L513.0,1092.0" fill="none" stroke="#353535" stroke-width="2.1" stroke-linejoin="round" stroke-linecap="round"/>
<line x1="513.0" y1="1092.0" x2="659.4" y2="1007.1" stroke="#353535" stroke-width="2.1" stroke-linecap="round"/>
<line x1="412.0" y1="1004.3" x2="460.2" y2="976.4" stroke="#353535" stroke-width="2.1" stroke-linecap="round"/>
<line x1="412.0" y1="1004.3" x2="464.6" y2="1034.3" stroke="#353535" stroke-width="2.1" stroke-linecap="round"/>
<path d="M412.0,1004.3 L412.0,1074.3 L615.9,1191.8" fill="none" stroke="#353535" stroke-width="2.1" stroke-linejoin="round" stroke-linecap="round"/>
<line x1="540.0" y1="1077.0" x2="615.9" y2="1122.4" stroke="#353535" stroke-width="2.1" stroke-linecap="round"/>
<line x1="634.1" y1="1022.8" x2="724.1" y2="1074.7" stroke="#353535" stroke-width="2.1" stroke-linecap="round"/>
<path d="M615.9,1122.4 L639.4,1120.6 L664.1,1120.6 L684.1,1114.1 L684.1,1098.8 L678.2,1086.1 L700.0,1073.5 L724.1,1074.7" fill="none" stroke="#353535" stroke-width="2.1" stroke-linejoin="round" stroke-linecap="round"/>
<line x1="615.9" y1="1122.4" x2="615.9" y2="1191.8" stroke="#353535" stroke-width="2.1" stroke-linecap="round"/>
<line x1="639.4" y1="1120.6" x2="640.0" y2="1190.0" stroke="#353535" stroke-width="2.1" stroke-linecap="round"/>
<line x1="664.1" y1="1120.6" x2="664.1" y2="1190.0" stroke="#353535" stroke-width="2.1" stroke-linecap="round"/>
<line x1="684.1" y1="1114.1" x2="684.7" y2="1183.0" stroke="#353535" stroke-width="2.1" stroke-linecap="round"/>
<line x1="700.0" y1="1073.5" x2="700.0" y2="1142.4" stroke="#353535" stroke-width="2.1" stroke-linecap="round"/>
<line x1="724.1" y1="1074.7" x2="724.1" y2="1144.1" stroke="#353535" stroke-width="2.1" stroke-linecap="round"/>
<path d="M615.9,1191.8 L640.0,1190.0 L664.1,1190.0 L684.7,1183.0" fill="none" stroke="#353535" stroke-width="2.1" stroke-linejoin="round" stroke-linecap="round"/>
<path d="M684.7,1151.8 L700.0,1142.4 L724.1,1144.1" fill="none" stroke="#353535" stroke-width="2.1" stroke-linejoin="round" stroke-linecap="round"/>
<path d="M565,860 L569,850.5 L603.4,831.8 L609,835.8 L609,985 Q609.5,1028 614,1035.4 L654.3,1064 L656,1070.7 L622.4,1090.8 L615.6,1089.2 L576.1,1055.5 Q566,1030 565,990 Z" fill="#fff" stroke="#000" stroke-width="1.8" stroke-linejoin="round"/>
<path d="M567.5,862 L567.5,990 Q568,1030 578,1053 L617,1086" fill="none" stroke="#000" stroke-width="1.1"/>
<path d="M606.5,838 L606.5,985 Q607,1025 612,1037" fill="none" stroke="#000" stroke-width="1.0"/>
<line x1="598.0" y1="990.0" x2="603.0" y2="1034.0" stroke="#222" stroke-width="0.8" stroke-linecap="round"/>
<line x1="599.8" y1="990.0" x2="604.5" y2="1034.0" stroke="#222" stroke-width="0.8" stroke-linecap="round"/>
<line x1="601.6" y1="990.0" x2="606.0" y2="1034.0" stroke="#222" stroke-width="0.8" stroke-linecap="round"/>
<line x1="603.4" y1="990.0" x2="607.5" y2="1034.0" stroke="#222" stroke-width="0.8" stroke-linecap="round"/>
<line x1="605.2" y1="990.0" x2="609.0" y2="1034.0" stroke="#222" stroke-width="0.8" stroke-linecap="round"/>
<line x1="611.0" y1="1039.0" x2="650.0" y2="1064.0" stroke="#333" stroke-width="0.6" stroke-linecap="round"/>
<line x1="609.7" y1="1040.6" x2="649.0" y2="1065.5" stroke="#333" stroke-width="0.6" stroke-linecap="round"/>
<line x1="608.4" y1="1042.2" x2="648.0" y2="1067.0" stroke="#333" stroke-width="0.6" stroke-linecap="round"/>
<line x1="607.1" y1="1043.8" x2="647.0" y2="1068.5" stroke="#333" stroke-width="0.6" stroke-linecap="round"/>
<path d="M584.0,1046.0 L595.5,1040.0 L603.0,1046.5" fill="none" stroke="#222" stroke-width="1.0" stroke-linejoin="round" stroke-linecap="round"/>
<path d="M576.1,1055.5 L615.6,1089.2 L622.4,1090.8 L656,1070.7 L654.3,1064" fill="none" stroke="#111" stroke-width="2.4" stroke-linejoin="round"/>
<circle cx="573.1" cy="856.4" r="1.9" fill="#000" stroke="#000" stroke-width="0.6"/>
<circle cx="602.0" cy="839.8" r="1.9" fill="#000" stroke="#000" stroke-width="0.6"/>
<circle cx="594.9" cy="859.0" r="1.9" fill="#000" stroke="#000" stroke-width="0.6"/>
<circle cx="580.6" cy="867.5" r="1.9" fill="#000" stroke="#000" stroke-width="0.6"/>
<circle cx="594.9" cy="888.5" r="1.9" fill="#000" stroke="#000" stroke-width="0.6"/>
<circle cx="580.6" cy="897.1" r="1.9" fill="#000" stroke="#000" stroke-width="0.6"/>
<circle cx="602.4" cy="899.6" r="1.9" fill="#000" stroke="#000" stroke-width="0.6"/>
<circle cx="588.2" cy="906.6" r="1.9" fill="#000" stroke="#000" stroke-width="0.6"/>
<circle cx="573.1" cy="915.9" r="1.9" fill="#000" stroke="#000" stroke-width="0.6"/>
<circle cx="594.9" cy="917.9" r="1.9" fill="#000" stroke="#000" stroke-width="0.6"/>
<circle cx="580.6" cy="926.8" r="1.9" fill="#000" stroke="#000" stroke-width="0.6"/>
<circle cx="602.4" cy="928.4" r="1.9" fill="#000" stroke="#000" stroke-width="0.6"/>
<circle cx="573.1" cy="944.9" r="1.9" fill="#000" stroke="#000" stroke-width="0.6"/>
<circle cx="588.2" cy="994.0" r="1.9" fill="#000" stroke="#000" stroke-width="0.6"/>
<circle cx="601.4" cy="993.4" r="1.9" fill="#000" stroke="#000" stroke-width="0.6"/>
<circle cx="574.7" cy="1007.5" r="1.9" fill="#000" stroke="#000" stroke-width="0.6"/>
<circle cx="588.2" cy="1022.2" r="1.9" fill="#000" stroke="#000" stroke-width="0.6"/>
<circle cx="580.6" cy="1019.0" r="1.9" fill="#000" stroke="#000" stroke-width="0.6"/>
<ellipse cx="587.2" cy="854.0" rx="3.2" ry="4.6" transform="rotate(30 587.2 854.0)" fill="none" stroke="#000" stroke-width="1.6"/>
<ellipse cx="588.8" cy="916.3" rx="3.0" ry="4.4" transform="rotate(30 588.8 916.3)" fill="none" stroke="#000" stroke-width="1.6"/>
<ellipse cx="587.2" cy="977.8" rx="3.2" ry="4.6" transform="rotate(30 587.2 977.8)" fill="none" stroke="#000" stroke-width="1.6"/>
<line x1="564.0" y1="891.3" x2="612.4" y2="864.0" stroke="#2fb22f" stroke-width="1.9" stroke-linecap="round"/>
<line x1="573.5" y1="876.2" x2="573.5" y2="896.2" stroke="#2fb22f" stroke-width="1.9" stroke-linecap="round"/>
<circle cx="573.5" cy="886.2" r="1.9" fill="#000" stroke="#000" stroke-width="0.6"/>
<line x1="587.8" y1="868.2" x2="587.8" y2="888.2" stroke="#2fb22f" stroke-width="1.9" stroke-linecap="round"/>
<circle cx="587.8" cy="878.2" r="1.9" fill="#000" stroke="#000" stroke-width="0.6"/>
<line x1="602.0" y1="860.1" x2="602.0" y2="880.1" stroke="#2fb22f" stroke-width="1.9" stroke-linecap="round"/>
<circle cx="602.0" cy="870.1" r="1.9" fill="#000" stroke="#000" stroke-width="0.6"/>
<line x1="577.8" y1="943.1" x2="596.9" y2="932.1" stroke="#2fb22f" stroke-width="1.9" stroke-linecap="round"/>
<line x1="588.2" y1="926.1" x2="588.2" y2="948.1" stroke="#2fb22f" stroke-width="1.9" stroke-linecap="round"/>
<circle cx="588.2" cy="937.1" r="1.9" fill="#000" stroke="#000" stroke-width="0.6"/>
<line x1="592.4" y1="984.5" x2="611.5" y2="973.5" stroke="#2fb22f" stroke-width="1.9" stroke-linecap="round"/>
<line x1="602.4" y1="968.3" x2="602.4" y2="989.3" stroke="#2fb22f" stroke-width="1.9" stroke-linecap="round"/>
<circle cx="602.4" cy="978.8" r="1.9" fill="#000" stroke="#000" stroke-width="0.6"/>
<line x1="564.1" y1="1001.1" x2="583.2" y2="990.1" stroke="#2fb22f" stroke-width="1.9" stroke-linecap="round"/>
<line x1="574.1" y1="985.4" x2="574.1" y2="1005.4" stroke="#2fb22f" stroke-width="1.9" stroke-linecap="round"/>
<circle cx="574.1" cy="995.4" r="1.9" fill="#000" stroke="#000" stroke-width="0.6"/>
<line x1="569.1" y1="1025.2" x2="607.4" y2="1003.4" stroke="#2fb22f" stroke-width="1.9" stroke-linecap="round"/>
<line x1="566.0" y1="1017.0" x2="604.0" y2="996.0" stroke="#2fb22f" stroke-width="1.9" stroke-linecap="round"/>
<line x1="579.2" y1="1009.2" x2="579.2" y2="1029.2" stroke="#2fb22f" stroke-width="1.9" stroke-linecap="round"/>
<line x1="588.2" y1="1000.0" x2="588.2" y2="1020.0" stroke="#2fb22f" stroke-width="1.9" stroke-linecap="round"/>
<line x1="596.3" y1="996.0" x2="596.3" y2="1016.0" stroke="#2fb22f" stroke-width="1.9" stroke-linecap="round"/>
<circle cx="579.2" cy="1019.2" r="1.9" fill="#000" stroke="#000" stroke-width="0.6"/>
<ellipse cx="608.9" cy="1061.6" rx="4.6" ry="3.0" transform="rotate(0 608.9 1061.6)" fill="#fff" stroke="#111" stroke-width="1.3"/>
<ellipse cx="601.3" cy="1057.2" rx="5.2" ry="3.8" transform="rotate(0 601.3 1057.2)" fill="#f00" stroke="#600" stroke-width="1.2"/>
<circle cx="627.4" cy="1071.5" r="3.0" fill="none" stroke="#111" stroke-width="2.4"/>
<circle cx="648.4" cy="1066.5" r="1.9" fill="#000" stroke="#000" stroke-width="0.6"/>
<circle cx="619.0" cy="1084.1" r="1.9" fill="#000" stroke="#000" stroke-width="0.6"/>
<path d="M872.6,648.4 L1018.1,563.3 L1066.7,592.0 L921.0,676.1 Z" fill="none" stroke="#353535" stroke-width="2.1" stroke-linejoin="round" stroke-linecap="round"/>
<line x1="1018.1" y1="563.3" x2="1018.1" y2="798.0" stroke="#353535" stroke-width="2.1" stroke-linecap="round"/>
<path d="M872.6,648.4 L872.0,742.4" fill="none" stroke="#353535" stroke-width="2.1" stroke-linejoin="round" stroke-linecap="round"/>
<path d="M872.0,790.8 L872.0,883.8 L920.4,911.0 L1066.9,826.1 L1018.1,798.0 L872.0,883.8" fill="none" stroke="#353535" stroke-width="2.1" stroke-linejoin="round" stroke-linecap="round"/>
<line x1="921.0" y1="676.1" x2="920.4" y2="911.0" stroke="#353535" stroke-width="2.1" stroke-linecap="round"/>
<path d="M1066.7,592.0 L1067.1,685.4" fill="none" stroke="#353535" stroke-width="2.1" stroke-linejoin="round" stroke-linecap="round"/>
<path d="M1067.1,732.6 L1066.9,826.1" fill="none" stroke="#353535" stroke-width="2.1" stroke-linejoin="round" stroke-linecap="round"/>
<line x1="1017.5" y1="658.2" x2="1067.1" y2="685.4" stroke="#353535" stroke-width="2.1" stroke-linecap="round"/>
<line x1="1035.6" y1="658.9" x2="1084.0" y2="687.6" stroke="#353535" stroke-width="2.1" stroke-linecap="round"/>
<line x1="1017.5" y1="658.2" x2="1035.6" y2="658.9" stroke="#353535" stroke-width="2.1" stroke-linecap="round"/>
<line x1="1067.1" y1="685.4" x2="1084.0" y2="687.6" stroke="#353535" stroke-width="2.1" stroke-linecap="round"/>
<line x1="1035.6" y1="658.9" x2="1017.5" y2="682.4" stroke="#353535" stroke-width="2.1" stroke-linecap="round"/>
<line x1="1084.0" y1="687.6" x2="1053.0" y2="726.2" stroke="#353535" stroke-width="2.1" stroke-linecap="round"/>
<line x1="1017.5" y1="705.0" x2="1053.0" y2="725.5" stroke="#353535" stroke-width="2.1" stroke-linecap="round"/>
<line x1="1017.5" y1="712.6" x2="1050.8" y2="731.5" stroke="#353535" stroke-width="2.1" stroke-linecap="round"/>
<line x1="1050.8" y1="731.5" x2="1067.1" y2="732.6" stroke="#353535" stroke-width="2.1" stroke-linecap="round"/>
<line x1="1053.0" y1="725.5" x2="1067.1" y2="732.6" stroke="#353535" stroke-width="2.1" stroke-linecap="round"/>
<line x1="872.0" y1="742.4" x2="890.2" y2="743.9" stroke="#353535" stroke-width="2.1" stroke-linecap="round"/>
<line x1="872.0" y1="742.4" x2="922.0" y2="769.6" stroke="#353535" stroke-width="2.1" stroke-linecap="round"/>
<line x1="890.2" y1="743.9" x2="935.5" y2="771.1" stroke="#353535" stroke-width="2.1" stroke-linecap="round"/>
<line x1="922.0" y1="769.6" x2="935.5" y2="771.1" stroke="#353535" stroke-width="2.1" stroke-linecap="round"/>
<line x1="885.6" y1="748.4" x2="854.6" y2="787.7" stroke="#353535" stroke-width="2.1" stroke-linecap="round"/>
<line x1="854.6" y1="787.7" x2="872.0" y2="790.8" stroke="#353535" stroke-width="2.1" stroke-linecap="round"/>
<line x1="872.0" y1="790.8" x2="921.9" y2="819.5" stroke="#353535" stroke-width="2.1" stroke-linecap="round"/>
<line x1="876.0" y1="794.0" x2="921.0" y2="815.0" stroke="#353535" stroke-width="2.1" stroke-linecap="round"/>
<path d="M1022.4,940.4 L819.8,824.8 L819.8,893.6 L1023.2,1008.5" fill="none" stroke="#353535" stroke-width="2.1" stroke-linejoin="round" stroke-linecap="round"/>
<path d="M819.8,824.8 L918.0,770.0 L1131.6,893.4" fill="none" stroke="#353535" stroke-width="2.1" stroke-linejoin="round" stroke-linecap="round"/>
<path d="M1022.4,940.4 L1046.7,938.7 L1071.9,937.9 L1092.1,932.0 L1092.1,917.7 L1086.2,905.1 L1107.2,892.5 L1131.6,893.4" fill="none" stroke="#353535" stroke-width="2.1" stroke-linejoin="round" stroke-linecap="round"/>
<line x1="1022.4" y1="940.4" x2="1023.2" y2="1008.5" stroke="#353535" stroke-width="2.1" stroke-linecap="round"/>
<line x1="1046.7" y1="938.7" x2="1047.6" y2="1008.5" stroke="#353535" stroke-width="2.1" stroke-linecap="round"/>
<line x1="1071.9" y1="937.9" x2="1071.9" y2="1006.8" stroke="#353535" stroke-width="2.1" stroke-linecap="round"/>
<line x1="1092.1" y1="932.0" x2="1093.0" y2="1000.9" stroke="#353535" stroke-width="2.1" stroke-linecap="round"/>
<line x1="1107.2" y1="892.5" x2="1107.2" y2="962.3" stroke="#353535" stroke-width="2.1" stroke-linecap="round"/>
<line x1="1131.6" y1="893.4" x2="1131.6" y2="963.1" stroke="#353535" stroke-width="2.1" stroke-linecap="round"/>
<path d="M1023.2,1008.5 L1047.6,1008.5 L1071.9,1006.8 L1093.0,1000.9" fill="none" stroke="#353535" stroke-width="2.1" stroke-linejoin="round" stroke-linecap="round"/>
<path d="M1093.0,970.7 L1107.2,962.3 L1131.6,963.1" fill="none" stroke="#353535" stroke-width="2.1" stroke-linejoin="round" stroke-linecap="round"/>
<path d="M922.9,648 L927.5,641 L960.8,621.9 L966.3,626.2 L966.3,752 Q963,805 954,829 L948,833 L936,840.5 L929,843 L926,840 L924.5,790" fill="none" stroke="#111" stroke-width="2" stroke-linejoin="round"/>
<line x1="923.3" y1="648.0" x2="923.3" y2="792.0" stroke="#111" stroke-width="3" stroke-linecap="round"/>
<path d="M963.5,760 Q960,805 951,828" fill="none" stroke="#222" stroke-width="1.2"/>
<line x1="924.5" y1="790.4" x2="929.6" y2="840.8" stroke="#111" stroke-width="1.5" stroke-linecap="round"/>
<line x1="930.6" y1="788.4" x2="936.6" y2="838.8" stroke="#111" stroke-width="1.5" stroke-linecap="round"/>
<path d="M873.1,820.7 L880.2,818.7 L906.9,798 L916.5,798 L920.5,794.5 M873.1,820.7 L875,823.5 L916.5,829.5 L928,842" fill="none" stroke="#111" stroke-width="2" stroke-linejoin="round"/>
<line x1="937.0" y1="839.0" x2="947.0" y2="833.0" stroke="#333" stroke-width="0.8" stroke-linecap="round"/>
<line x1="939.2" y1="837.7" x2="948.5" y2="832.0" stroke="#333" stroke-width="0.8" stroke-linecap="round"/>
<line x1="941.4" y1="836.4" x2="950.0" y2="831.0" stroke="#333" stroke-width="0.8" stroke-linecap="round"/>
<line x1="943.6" y1="835.1" x2="951.5" y2="830.0" stroke="#333" stroke-width="0.8" stroke-linecap="round"/>
<ellipse cx="902.4" cy="815.1" rx="4.0" ry="2.6" transform="rotate(-20 902.4 815.1)" fill="#111" stroke="#111" stroke-width="1.2"/>
<circle cx="883.2" cy="819.7" r="2.0" fill="#111" stroke="#111" stroke-width="1.0"/>
<circle cx="911.4" cy="803.5" r="2.0" fill="#111" stroke="#111" stroke-width="1.0"/>
<circle cx="920.0" cy="802.5" r="2.0" fill="#111" stroke="#111" stroke-width="1.0"/>
<circle cx="917.5" cy="824.7" r="2.2" fill="#111" stroke="#111" stroke-width="1.0"/>
<path d="M973.3,676.3 L976.6,669.5 L1009.9,650.6 L1016.7,655.1 L1016.5,790 L1017.3,847.1 L1022.4,855.5 L1057.6,881.6 L1063.5,885.8 L1063.5,890.8 L1030.8,910.2 L1022.4,909.3 L984.5,874 Q977,850 976.1,832 L973.3,760 Z" fill="#fff" stroke="#000" stroke-width="1.8" stroke-linejoin="round"/>
<path d="M975.8,680 L975.8,830 Q977,855 986,872 L1023,906" fill="none" stroke="#000" stroke-width="1.0"/>
<line x1="1005.0" y1="830.0" x2="1010.0" y2="860.0" stroke="#353535" stroke-width="0.7" stroke-linecap="round"/>
<line x1="1007.5" y1="830.0" x2="1012.0" y2="860.0" stroke="#353535" stroke-width="0.7" stroke-linecap="round"/>
<line x1="1010.0" y1="830.0" x2="1014.0" y2="860.0" stroke="#353535" stroke-width="0.7" stroke-linecap="round"/>
<line x1="1012.5" y1="830.0" x2="1016.0" y2="860.0" stroke="#353535" stroke-width="0.7" stroke-linecap="round"/>
<line x1="1015.0" y1="830.0" x2="1018.0" y2="860.0" stroke="#353535" stroke-width="0.7" stroke-linecap="round"/>
<line x1="1024.0" y1="860.0" x2="1055.0" y2="880.0" stroke="#353535" stroke-width="0.7" stroke-linecap="round"/>
<line x1="1025.5" y1="861.5" x2="1055.5" y2="880.5" stroke="#353535" stroke-width="0.7" stroke-linecap="round"/>
<line x1="1027.0" y1="863.0" x2="1056.0" y2="881.0" stroke="#353535" stroke-width="0.7" stroke-linecap="round"/>
<line x1="1028.5" y1="864.5" x2="1056.5" y2="881.5" stroke="#353535" stroke-width="0.7" stroke-linecap="round"/>
<line x1="1030.0" y1="866.0" x2="1057.0" y2="882.0" stroke="#353535" stroke-width="0.7" stroke-linecap="round"/>
<ellipse cx="1012.3" cy="876.6" rx="6.0" ry="3.2" transform="rotate(28 1012.3 876.6)" fill="none" stroke="#000" stroke-width="1.8"/>
<circle cx="1035.0" cy="890.8" r="3.2" fill="none" stroke="#000" stroke-width="1.8"/>
<circle cx="1055.1" cy="885.8" r="1.9" fill="#000" stroke="#000" stroke-width="0.6"/>
<circle cx="1026.6" cy="902.6" r="1.9" fill="#000" stroke="#000" stroke-width="0.6"/>
<ellipse cx="959.8" cy="630.4" rx="2.0" ry="2.4" transform="rotate(30 959.8 630.4)" fill="#111" stroke="#111" stroke-width="0.8"/>
<ellipse cx="930.8" cy="646.1" rx="2.0" ry="2.4" transform="rotate(30 930.8 646.1)" fill="#111" stroke="#111" stroke-width="0.8"/>
<ellipse cx="952.4" cy="648.9" rx="2.0" ry="2.4" transform="rotate(30 952.4 648.9)" fill="#111" stroke="#111" stroke-width="0.8"/>
<ellipse cx="937.6" cy="657.2" rx="2.0" ry="2.4" transform="rotate(30 937.6 657.2)" fill="#111" stroke="#111" stroke-width="0.8"/>
<ellipse cx="959.8" cy="660.0" rx="2.0" ry="2.4" transform="rotate(30 959.8 660.0)" fill="#111" stroke="#111" stroke-width="0.8"/>
<ellipse cx="945.0" cy="667.4" rx="2.0" ry="2.4" transform="rotate(30 945.0 667.4)" fill="#111" stroke="#111" stroke-width="0.8"/>
<ellipse cx="930.8" cy="676.1" rx="2.0" ry="2.4" transform="rotate(30 930.8 676.1)" fill="#111" stroke="#111" stroke-width="0.8"/>
<ellipse cx="952.4" cy="678.5" rx="2.0" ry="2.4" transform="rotate(30 952.4 678.5)" fill="#111" stroke="#111" stroke-width="0.8"/>
<ellipse cx="937.6" cy="686.6" rx="2.0" ry="2.4" transform="rotate(30 937.6 686.6)" fill="#111" stroke="#111" stroke-width="0.8"/>
<ellipse cx="959.8" cy="689.0" rx="2.0" ry="2.4" transform="rotate(30 959.8 689.0)" fill="#111" stroke="#111" stroke-width="0.8"/>
<ellipse cx="945.0" cy="696.4" rx="2.0" ry="2.4" transform="rotate(30 945.0 696.4)" fill="#111" stroke="#111" stroke-width="0.8"/>
<ellipse cx="930.8" cy="705.7" rx="2.0" ry="2.4" transform="rotate(30 930.8 705.7)" fill="#111" stroke="#111" stroke-width="0.8"/>
<ellipse cx="952.4" cy="707.5" rx="2.0" ry="2.4" transform="rotate(30 952.4 707.5)" fill="#111" stroke="#111" stroke-width="0.8"/>
<ellipse cx="937.6" cy="715.8" rx="2.0" ry="2.4" transform="rotate(30 937.6 715.8)" fill="#111" stroke="#111" stroke-width="0.8"/>
<ellipse cx="959.8" cy="717.7" rx="2.0" ry="2.4" transform="rotate(30 959.8 717.7)" fill="#111" stroke="#111" stroke-width="0.8"/>
<ellipse cx="944.6" cy="726.5" rx="2.0" ry="2.4" transform="rotate(30 944.6 726.5)" fill="#111" stroke="#111" stroke-width="0.8"/>
<ellipse cx="931.0" cy="734.8" rx="2.0" ry="2.4" transform="rotate(30 931.0 734.8)" fill="#111" stroke="#111" stroke-width="0.8"/>
<ellipse cx="959.8" cy="768.8" rx="2.0" ry="2.4" transform="rotate(30 959.8 768.8)" fill="#111" stroke="#111" stroke-width="0.8"/>
<ellipse cx="931.0" cy="784.7" rx="2.0" ry="2.4" transform="rotate(30 931.0 784.7)" fill="#111" stroke="#111" stroke-width="0.8"/>
<ellipse cx="944.6" cy="784.0" rx="2.0" ry="2.4" transform="rotate(30 944.6 784.0)" fill="#111" stroke="#111" stroke-width="0.8"/>
<ellipse cx="959.0" cy="783.2" rx="2.0" ry="2.4" transform="rotate(30 959.0 783.2)" fill="#111" stroke="#111" stroke-width="0.8"/>
<ellipse cx="932.5" cy="797.6" rx="2.0" ry="2.4" transform="rotate(30 932.5 797.6)" fill="#111" stroke="#111" stroke-width="0.8"/>
<ellipse cx="944.6" cy="796.8" rx="2.0" ry="2.4" transform="rotate(30 944.6 796.8)" fill="#111" stroke="#111" stroke-width="0.8"/>
<ellipse cx="953.7" cy="799.1" rx="2.0" ry="2.4" transform="rotate(30 953.7 799.1)" fill="#111" stroke="#111" stroke-width="0.8"/>
<ellipse cx="936.3" cy="808.9" rx="2.0" ry="2.4" transform="rotate(30 936.3 808.9)" fill="#111" stroke="#111" stroke-width="0.8"/>
<ellipse cx="944.6" cy="811.9" rx="2.0" ry="2.4" transform="rotate(30 944.6 811.9)" fill="#111" stroke="#111" stroke-width="0.8"/>
<ellipse cx="1009.9" cy="659.7" rx="2.0" ry="2.4" transform="rotate(30 1009.9 659.7)" fill="#111" stroke="#111" stroke-width="0.8"/>
<ellipse cx="981.2" cy="675.5" rx="2.0" ry="2.4" transform="rotate(30 981.2 675.5)" fill="#111" stroke="#111" stroke-width="0.8"/>
<ellipse cx="1002.4" cy="678.6" rx="2.0" ry="2.4" transform="rotate(30 1002.4 678.6)" fill="#111" stroke="#111" stroke-width="0.8"/>
<ellipse cx="988.0" cy="686.1" rx="2.0" ry="2.4" transform="rotate(30 988.0 686.1)" fill="#111" stroke="#111" stroke-width="0.8"/>
<ellipse cx="1009.9" cy="688.4" rx="2.0" ry="2.4" transform="rotate(30 1009.9 688.4)" fill="#111" stroke="#111" stroke-width="0.8"/>
<ellipse cx="995.5" cy="696.7" rx="2.0" ry="2.4" transform="rotate(30 995.5 696.7)" fill="#111" stroke="#111" stroke-width="0.8"/>
<ellipse cx="981.2" cy="705.0" rx="2.0" ry="2.4" transform="rotate(30 981.2 705.0)" fill="#111" stroke="#111" stroke-width="0.8"/>
<ellipse cx="1002.4" cy="707.3" rx="2.0" ry="2.4" transform="rotate(30 1002.4 707.3)" fill="#111" stroke="#111" stroke-width="0.8"/>
<ellipse cx="988.0" cy="715.6" rx="2.0" ry="2.4" transform="rotate(30 988.0 715.6)" fill="#111" stroke="#111" stroke-width="0.8"/>
<ellipse cx="1009.9" cy="717.9" rx="2.0" ry="2.4" transform="rotate(30 1009.9 717.9)" fill="#111" stroke="#111" stroke-width="0.8"/>
<ellipse cx="995.5" cy="725.5" rx="2.0" ry="2.4" transform="rotate(30 995.5 725.5)" fill="#111" stroke="#111" stroke-width="0.8"/>
<ellipse cx="981.2" cy="734.5" rx="2.0" ry="2.4" transform="rotate(30 981.2 734.5)" fill="#111" stroke="#111" stroke-width="0.8"/>
<ellipse cx="1002.4" cy="736.0" rx="2.0" ry="2.4" transform="rotate(30 1002.4 736.0)" fill="#111" stroke="#111" stroke-width="0.8"/>
<ellipse cx="988.0" cy="745.1" rx="2.0" ry="2.4" transform="rotate(30 988.0 745.1)" fill="#111" stroke="#111" stroke-width="0.8"/>
<ellipse cx="1009.9" cy="747.4" rx="2.0" ry="2.4" transform="rotate(30 1009.9 747.4)" fill="#111" stroke="#111" stroke-width="0.8"/>
<ellipse cx="995.5" cy="755.7" rx="2.0" ry="2.4" transform="rotate(30 995.5 755.7)" fill="#111" stroke="#111" stroke-width="0.8"/>
<ellipse cx="981.2" cy="764.0" rx="2.0" ry="2.4" transform="rotate(30 981.2 764.0)" fill="#111" stroke="#111" stroke-width="0.8"/>
<ellipse cx="1009.9" cy="798.1" rx="2.0" ry="2.4" transform="rotate(30 1009.9 798.1)" fill="#111" stroke="#111" stroke-width="0.8"/>
<ellipse cx="981.2" cy="814.4" rx="2.0" ry="2.4" transform="rotate(30 981.2 814.4)" fill="#111" stroke="#111" stroke-width="0.8"/>
<ellipse cx="995.5" cy="812.7" rx="2.0" ry="2.4" transform="rotate(30 995.5 812.7)" fill="#111" stroke="#111" stroke-width="0.8"/>
<ellipse cx="1008.1" cy="811.8" rx="2.0" ry="2.4" transform="rotate(30 1008.1 811.8)" fill="#111" stroke="#111" stroke-width="0.8"/>
<ellipse cx="982.0" cy="826.1" rx="2.0" ry="2.4" transform="rotate(30 982.0 826.1)" fill="#111" stroke="#111" stroke-width="0.8"/>
<ellipse cx="995.5" cy="826.1" rx="2.0" ry="2.4" transform="rotate(30 995.5 826.1)" fill="#111" stroke="#111" stroke-width="0.8"/>
<ellipse cx="1004.7" cy="827.8" rx="2.0" ry="2.4" transform="rotate(30 1004.7 827.8)" fill="#111" stroke="#111" stroke-width="0.8"/>
<ellipse cx="986.2" cy="837.9" rx="2.0" ry="2.4" transform="rotate(30 986.2 837.9)" fill="#111" stroke="#111" stroke-width="0.8"/>
<ellipse cx="995.5" cy="840.4" rx="2.0" ry="2.4" transform="rotate(30 995.5 840.4)" fill="#111" stroke="#111" stroke-width="0.8"/>
<ellipse cx="944.1" cy="644.7" rx="2.6" ry="4.2" transform="rotate(30 944.1 644.7)" fill="none" stroke="#111" stroke-width="1.8"/>
<ellipse cx="994.8" cy="672.5" rx="2.6" ry="4.2" transform="rotate(30 994.8 672.5)" fill="none" stroke="#111" stroke-width="1.8"/>
<ellipse cx="944.6" cy="767.3" rx="2.6" ry="4.2" transform="rotate(30 944.6 767.3)" fill="none" stroke="#111" stroke-width="1.8"/>
<ellipse cx="994.8" cy="795.8" rx="2.6" ry="4.2" transform="rotate(30 994.8 795.8)" fill="none" stroke="#111" stroke-width="1.8"/>
<ellipse cx="946.9" cy="705.7" rx="2.4" ry="3.6" transform="rotate(30 946.9 705.7)" fill="none" stroke="#111" stroke-width="1.8"/>
<circle cx="945.9" cy="700.7" r="1.5" fill="#111" stroke="#000" stroke-width="0.5"/>
<circle cx="950.9" cy="706.7" r="1.5" fill="#111" stroke="#000" stroke-width="0.5"/>
<ellipse cx="996.3" cy="735.3" rx="2.4" ry="3.6" transform="rotate(30 996.3 735.3)" fill="none" stroke="#111" stroke-width="1.8"/>
<circle cx="995.3" cy="730.3" r="1.5" fill="#111" stroke="#000" stroke-width="0.5"/>
<circle cx="1000.3" cy="736.3" r="1.5" fill="#111" stroke="#000" stroke-width="0.5"/>
</svg>
</body></html>
